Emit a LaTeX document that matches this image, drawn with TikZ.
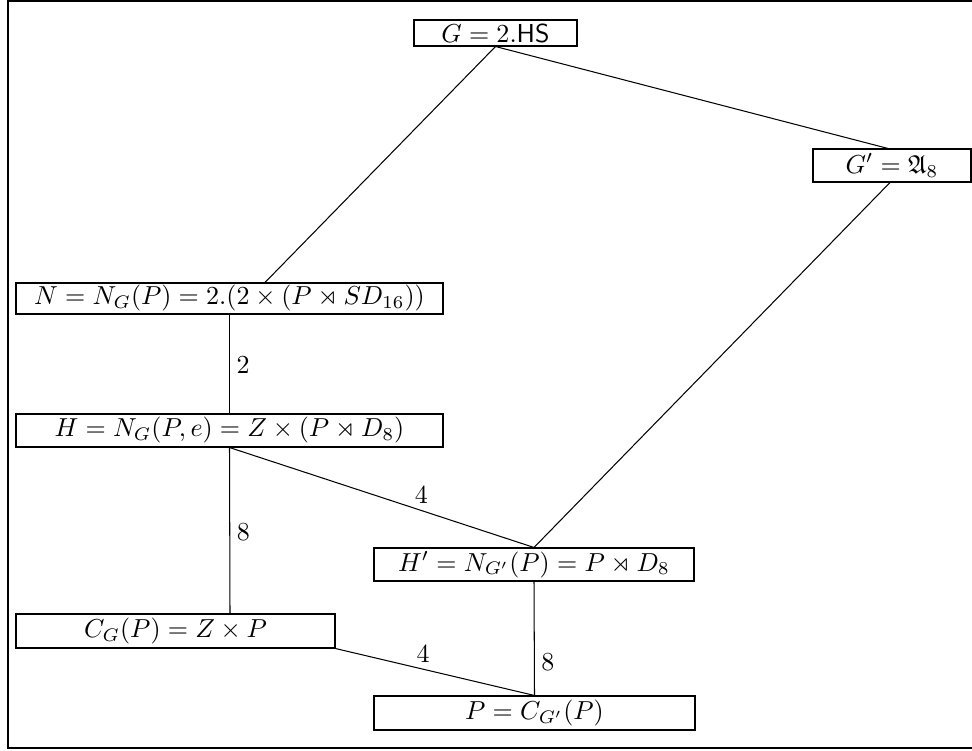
\documentclass[tikz,border=0pt]{standalone}
\usepackage{amssymb}
\usetikzlibrary{calc}
\def\uu{0.3846pt}
\begin{document}
\begin{tikzpicture}[x=0.3846pt,y=-0.3846pt,
  box/.style 2 args={draw, inner sep=0pt, minimum width=#1*\uu, minimum height=#2*\uu},
  lbl/.style={inner sep=2.5pt}]
\useasboundingbox (0,0) rectangle (972,751);
\draw[line width=0.6pt] (990,0.8) -- (8,0.8) -- (8,748) -- (990,748);
\node[box={163}{26}] (G) at (495.5,33) {$G=2.\mathsf{HS}$};
\node[box={158}{33}] (Gp) at (892,165.5) {$G'=\mathfrak{A}_8$};
\node[box={427}{31}] (N) at (229.5,298.5) {$N=N_G(P)=2.(2\times(P\rtimes SD_{16}))$};
\node[box={427}{33}] (H) at (229.5,430.5) {$H=N_G(P,e)=Z\times(P\rtimes D_8)$};
\node[box={320}{33}] (Hp) at (534,564.5) {$H'=N_{G'}(P)=P\rtimes D_8$};
\node[box={319}{34}] (CG) at (175.5,631) {$C_G(P)=Z\times P$};
\node[box={321}{34}] (P) at (534.5,713) {$P=C_{G'}(P)$};
\draw (G.south) -- ($(N.north)+(35.5,0)$);
\draw (G.south) -- ($(Gp.north)+(-4,0)$);
\draw ($(Gp.south)+(-2,0)$) -- (Hp.north);
\draw (N.south) -- node[pos=0.51,right,lbl]{$2$} (H.north);
\draw (H.south) -- node[pos=0.63,above,lbl]{$4$} (Hp.north);
\draw (H.south) -- node[pos=0.51,right,lbl]{$8$} ($(CG.north)+(54.5,0)$);
\draw (CG.south east) -- node[pos=0.44,above,lbl]{$4$} (P.north);
\draw (Hp.south) -- node[pos=0.71,right,lbl]{$8$} (P.north);
\end{tikzpicture}
\end{document}
